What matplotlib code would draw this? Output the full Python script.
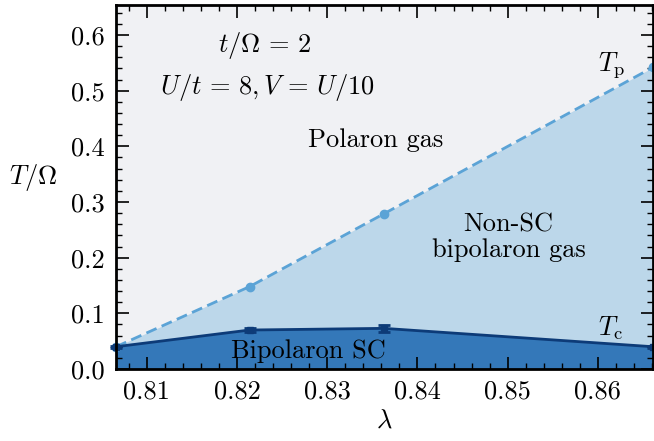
import matplotlib
matplotlib.use('Agg')
import matplotlib.pyplot as plt
from matplotlib.ticker import MultipleLocator

plt.rcParams['font.family'] = 'serif'
plt.rcParams['font.serif'] = ['cmr10']
plt.rcParams['mathtext.fontset'] = 'cm'
plt.rcParams['axes.formatter.use_mathtext'] = True

# данные
lam = [0.8066, 0.8214, 0.8363, 0.8661]
t_p = [0.040, 0.148, 0.279, 0.542]
t_c = [0.040, 0.070, 0.073, 0.040]
t_c_err = [0.002, 0.003, 0.006, 0.002]

fig = plt.figure(figsize=(6.54, 4.41), dpi=100)
ax = fig.add_axes([0.1774, 0.1633, 0.821, 0.8254])

ax.set_facecolor('#f0f1f4')
ax.fill_between(lam, 0, t_p, color='#bcd7ea', lw=0)
ax.fill_between(lam, 0, t_c, color='#3478b9', lw=0)

ax.plot(lam, t_p, '--o', color='#5ba3d6', lw=2.0, ms=6, dashes=(4, 2), clip_on=False, zorder=3)
ax.errorbar(lam, t_c, yerr=t_c_err, fmt='-s', color='#0d3b78', lw=2.0, ms=5,
            capsize=4, capthick=2, elinewidth=2, clip_on=False, zorder=4)

fs = 19
ax.text(0.82311, 0.582, r'$t/\Omega\,=\,2$', ha='center', va='center', fontsize=fs)
ax.text(0.82333, 0.506, r'$U/t\,=\,8, V\,=\,U/10$', ha='center', va='center', fontsize=fs)
ax.text(0.83533, 0.411, 'Polaron gas', ha='center', va='center', fontsize=fs)
ax.text(0.85011, 0.236, 'Non-SC\nbipolaron gas', ha='center', va='center', fontsize=fs,
        linespacing=1.1)
ax.text(0.82789, 0.032, 'Bipolaron SC', ha='center', va='center', fontsize=fs)
ax.text(0.86156, 0.546, r'$T_\mathrm{p}$', ha='center', va='center', fontsize=fs)
ax.text(0.86144, 0.074, r'$T_\mathrm{c}$', ha='center', va='center', fontsize=fs)

ax.set_xlim(lam[0], lam[-1])
ax.set_ylim(0, 0.654)
ax.xaxis.set_major_locator(MultipleLocator(0.01))
ax.xaxis.set_minor_locator(MultipleLocator(0.002))
ax.yaxis.set_major_locator(MultipleLocator(0.1))
ax.yaxis.set_minor_locator(MultipleLocator(0.02))
ax.xaxis.set_major_formatter(plt.FormatStrFormatter('%.2f'))
ax.yaxis.set_major_formatter(plt.FormatStrFormatter('%.1f'))

ax.tick_params(which='both', direction='in', top=True, right=True, labelsize=fs)
ax.tick_params(which='major', length=9, width=1.2, pad=8)
ax.tick_params(which='minor', length=4.5, width=1.0)
for s in ax.spines.values():
    s.set_linewidth(2.0)
    s.set_zorder(5)

ax.set_xlabel(r'$\lambda$', fontsize=fs, labelpad=4)
ax.set_ylabel(r'$T/\Omega$', fontsize=fs, rotation=0, va='center', ha='center')
ax.yaxis.set_label_coords(-0.155, 0.525)

fig.savefig('out.png', dpi=100)
